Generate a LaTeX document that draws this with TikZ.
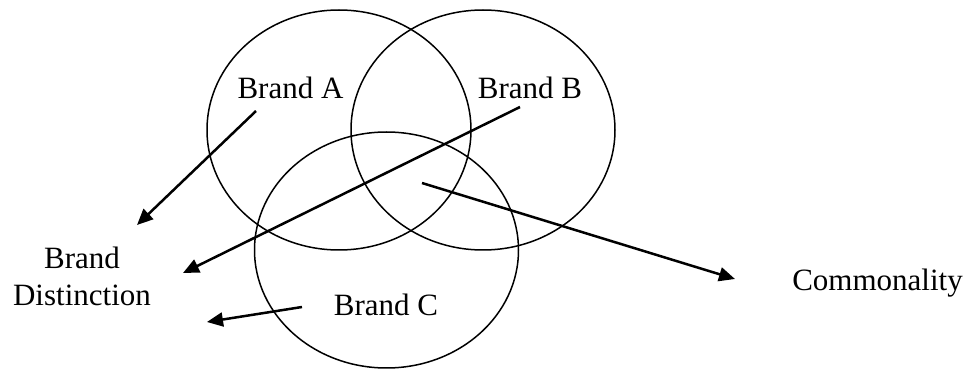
\documentclass[tikz,border=0pt]{standalone}
\usepackage{fontspec}
\setmainfont{Liberation Serif}
\usepackage{tikz}
\usetikzlibrary{positioning,arrows.meta,shapes.geometric}
\tikzset{
brandset/.style={
draw,
ellipse,
line width=0.75pt,
minimum width=132pt,
minimum height=120pt,
inner sep=0pt
},
label/.style={
font=\fontsize{15.5}{18.5}\selectfont,
align=center,
inner sep=0pt
},
arrow/.style={
-{Triangle[length=8pt,width=7pt]},
line width=1.25pt
}
}
\begin{document}
\begin{tikzpicture}[x=0.5pt,y=-0.5pt]
\useasboundingbox (0,0) rectangle (971,369);
% the three brands
\node[brandset] (setA) at (339,130) {};
\node[brandset] (setB) at (483,130) {};
\node[brandset,minimum height=118pt] (setC) at (386.5,250) {};

\node[label,anchor=base] (brandA) at (290.5,99) {Brand A};
\node[label,anchor=base] (brandB) at (530,99) {Brand B};
\node[label,anchor=base] (brandC) at (386,315) {Brand C};
\node[label] (distinction) at (82,276) {Brand\\Distinction};
\node[label,anchor=base] (common) at (877.5,291) {Commonality};

% arrow ends
\coordinate (fromA) at (256,111);
\coordinate (toA) at (137,225);
\coordinate (fromB) at (520,107);
\coordinate (toB) at (183,273);
\coordinate (fromC) at (302,307);
\coordinate (toC) at (207,322);
\coordinate (fromMid) at (422,183);
\coordinate (toMid) at (735,279);

\foreach \x/\y in {fromA/toA,fromB/toB,fromC/toC,fromMid/toMid}
\draw[arrow](\x)--(\y);
\end{tikzpicture}
\end{document}
